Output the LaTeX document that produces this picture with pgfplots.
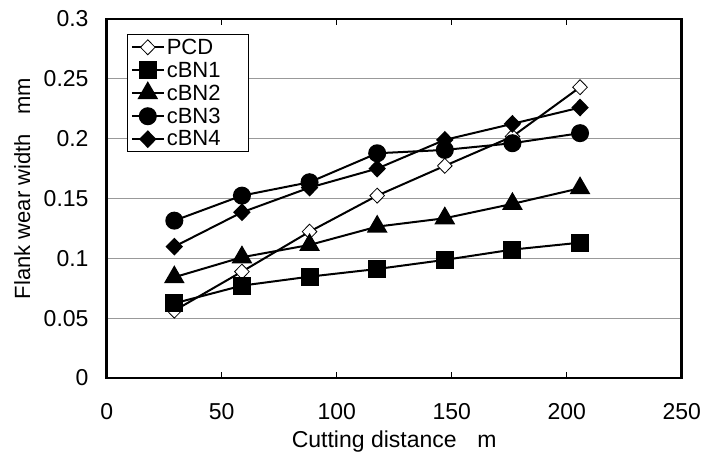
\documentclass[border=0pt]{standalone}
\usepackage{pgfplots}
\pgfplotsset{compat=1.18}
\usepackage{fontspec}
\setmainfont{Liberation Sans}
\newcommand{\legtxt}[1]{#1\rule{23pt}{0pt}}
\begin{document}
\begin{tikzpicture}[x=1pt,y=1pt]
\begin{axis}[
  at={(0,0)}, anchor=south west,
  scale only axis, width=575pt, height=359pt,
  xmin=0, xmax=250, ymin=0, ymax=0.3,
  xtick={0,50,...,250}, ytick={0,0.05,...,0.3},
  yticklabels={0,0.05,0.1,0.15,0.2,0.25,0.3},
  xticklabels={0,50,100,150,200,250},
  tick align=inside,
  major tick length=6pt,
  tick style={black, line width=1pt},
  axis line style={black, line width=2.5pt},
  ymajorgrids, grid style={gray!80, line width=1pt},
  ytick style={draw=none},
  every tick label/.append style={font=\fontsize{23}{26}\selectfont, inner sep=0pt},
  yticklabel style={xshift=-18pt},
  xticklabel style={yshift=-25pt},
  xlabel={Cutting distance\hspace{0.9em}m},
  ylabel={Flank wear width\hspace{0.9em}mm},
  xlabel style={at={(axis description cs:0.5,-0.178)}, anchor=center, font=\fontsize{23}{26}\selectfont},
  ylabel style={at={(axis description cs:-0.147,0.528)}, anchor=center, rotate=0, font=\fontsize{22}{26}\selectfont},
  legend style={at={(rel axis cs:0.036,0.957)}, anchor=north west, draw=black, line width=0.8pt,
    font=\fontsize{22}{24}\selectfont, row sep=2.2pt, inner xsep=3pt, inner ysep=2pt},
  legend cell align=left,
  legend image code/.code={\draw[mark repeat=2,mark phase=2,#1] plot coordinates {(0pt,0pt) (16pt,0pt) (32pt,0pt)};},
  every axis plot/.append style={black, line width=2pt},
]
\addplot[mark=diamond*, mark options={fill=white, line width=0.8pt, xscale=1.3}, mark size=7.5pt] coordinates {
(29.4,0.0563) (58.8,0.0889) (88.2,0.1223) (117.6,0.1524) (147,0.1773) (176.4,0.2018) (205.8,0.2430)};
\addlegendentry{\legtxt{PCD}}
\addplot[mark=square*, mark options={solid}, mark size=8pt] coordinates {
(29.4,0.0624) (58.8,0.0772) (88.2,0.0847) (117.6,0.0911) (147,0.0987) (176.4,0.1073) (205.8,0.1131)};
\addlegendentry{\legtxt{cBN1}}
\addplot[mark=triangle*, mark size=10pt] coordinates {
(29.4,0.0842) (58.8,0.1009) (88.2,0.1112) (117.6,0.1265) (147,0.1335) (176.4,0.1455) (205.8,0.1586)};
\addlegendentry{\legtxt{cBN2}}
\addplot[mark=*, mark size=8pt] coordinates {
(29.4,0.1315) (58.8,0.1524) (88.2,0.1636) (117.6,0.1878) (147,0.1906) (176.4,0.1962) (205.8,0.2046)};
\addlegendentry{\legtxt{cBN3}}
\addplot[mark=diamond*, mark options={xscale=1.3}, mark size=7.5pt] coordinates {
(29.4,0.1098) (58.8,0.1385) (88.2,0.1591) (117.6,0.1750) (147,0.1990) (176.4,0.2124) (205.8,0.2260)};
\addlegendentry{\legtxt{cBN4}}
\end{axis}
\path (-106.7,-81) rectangle (612.3,378);
\end{tikzpicture}
\end{document}
